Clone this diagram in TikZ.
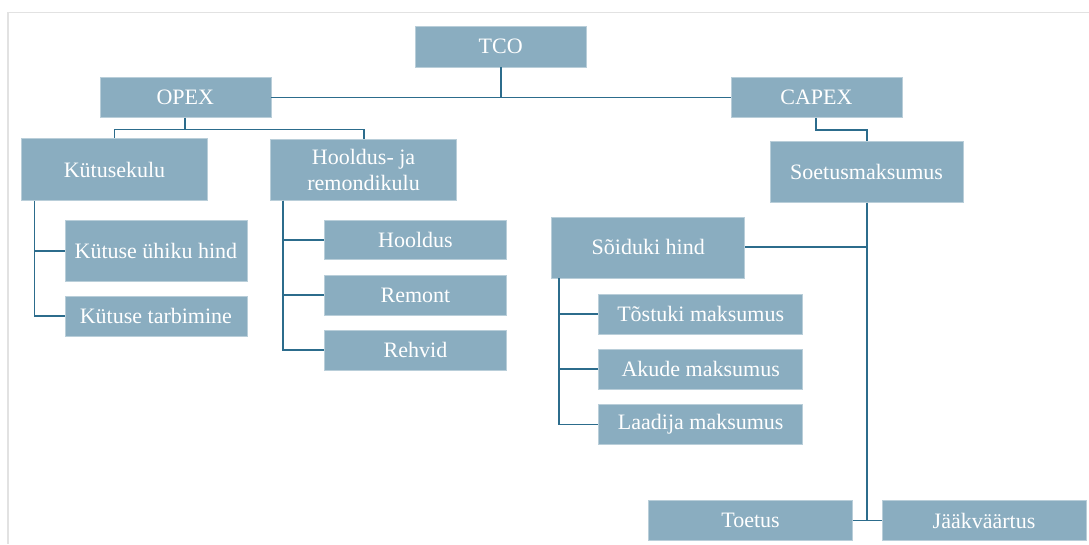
\documentclass[tikz,border=0pt]{standalone}
\usepackage{fontspec}
\setmainfont{Liberation Serif}
\definecolor{boxblue}{HTML}{8AADC0}
\definecolor{linkblue}{HTML}{2C6C8C}
\definecolor{framegray}{HTML}{E2E2E2}
\begin{document}
\begin{tikzpicture}[
  x=1pt, y=-1pt,
  cost/.style={fill=boxblue, draw=boxblue!60!white, line width=.6pt, text=white,
    inner sep=0pt, font=\fontsize{22}{26}\selectfont, align=center},
  link/.style={draw=linkblue, line width=1.9pt},
]
%canvas and frame
\useasboundingbox (0,0) rectangle (1089,544);
\draw[framegray, line width=1.2pt] (8,544) -- (8,12.5) -- (1089,12.5);

%top levels
\node[cost, minimum width=171pt, minimum height=41pt] (tco)   at (500.7,46.5) {TCO};
\node[cost, minimum width=171pt, minimum height=40pt] (opex)  at (185.3,97.5) {OPEX};
\node[cost, minimum width=171pt, minimum height=40pt] (capex) at (816.4,97.5) {CAPEX};

%OPEX side
\node[cost, minimum width=186pt, minimum height=62pt] (fuel)  at (114.5,169.5) {Kütusekulu};
\node[cost, minimum width=186pt, minimum height=61pt] (maint) at (363.6,169.7) {Hooldus- ja\\remondikulu};
\node[cost, minimum width=182pt, minimum height=61pt] (price) at (155.9,250.7) {Kütuse ühiku hind};
\node[cost, minimum width=182pt, minimum height=40pt] (usage) at (155.9,316) {Kütuse tarbimine};
\node[cost, minimum width=182pt, minimum height=39pt] (serv)  at (415.5,239.7) {Hooldus};
\node[cost, minimum width=182pt, minimum height=40pt] (repair) at (415.5,295) {Remont};
\node[cost, minimum width=182pt, minimum height=40pt] (tyres) at (415.5,350) {Rehvid};

%CAPEX side
\node[cost, minimum width=193pt, minimum height=61pt] (acq)   at (866.6,171.7) {Soetusmaksumus};
\node[cost, minimum width=193pt, minimum height=61pt] (veh)   at (648.2,247.3) {Sõiduki hind};
\node[cost, minimum width=204pt, minimum height=40pt] (truck) at (700.7,314.2) {Tõstuki maksumus};
\node[cost, minimum width=204pt, minimum height=40pt] (batt)  at (700.7,369.2) {Akude maksumus};
\node[cost, minimum width=204pt, minimum height=40pt] (charger) at (700.7,424.5) {Laadija maksumus};
\node[cost, minimum width=204pt, minimum height=40pt] (grant) at (750.5,520.5) {Toetus};
\node[cost, minimum width=204pt, minimum height=40pt] (resid) at (984,520.5) {Jääkväärtus};

%connectors
\draw[link] (opex.east) -- (capex.west);
\draw[link] (tco.south) -- (tco.south |- opex.east);
\draw[link] (opex.south) -- ++(0,11.7) -| (fuel.north);
\draw[link] (opex.south) -- ++(0,11.7) -| (maint.north);
\draw[link] (capex.south) -- ++(0,12) -| (acq.north);

\draw[link] ([xshift=13.3pt]fuel.south west) |- (price.west);
\draw[link] ([xshift=13.3pt]fuel.south west) |- (usage.west);
\draw[link] ([xshift=12.5pt]maint.south west) |- (serv.west);
\draw[link] ([xshift=12.5pt]maint.south west) |- (repair.west);
\draw[link] ([xshift=12.5pt]maint.south west) |- (tyres.west);

\draw[link] (acq.south) -- (acq.south |- grant.east);
\draw[link] (veh.east) -- (veh.east -| acq.south);
\draw[link] (grant.east) -- (resid.west);
\draw[link] ([xshift=8pt]veh.south west) |- (truck.west);
\draw[link] ([xshift=8pt]veh.south west) |- (batt.west);
\draw[link] ([xshift=8pt]veh.south west) |- (charger.west);
\end{tikzpicture}
\end{document}
